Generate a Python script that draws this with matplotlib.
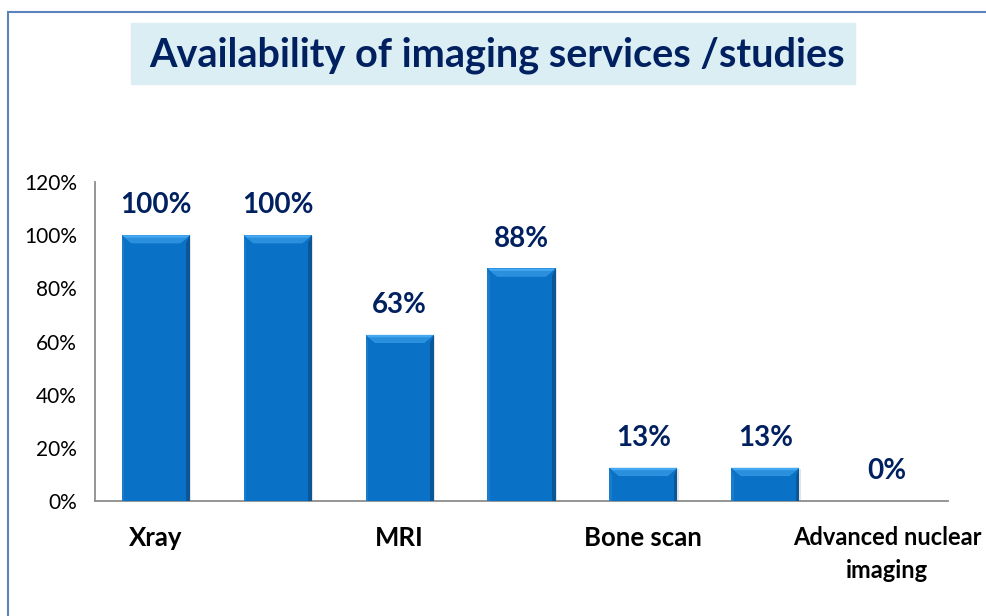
import matplotlib
matplotlib.use("Agg")
import matplotlib.pyplot as plt
from matplotlib.patches import Rectangle, Polygon

categories = ["Xray", "", "MRI", "", "Bone scan", "", "Advanced nuclear\nimaging"]
values = [1.00, 1.00, 0.625, 0.875, 0.125, 0.125, 0.0]
value_labels = ["100%", "100%", "63%", "88%", "13%", "13%", "0%"]
yticks = [0, 0.2, 0.4, 0.6, 0.8, 1.0, 1.2]
ytick_labels = ["0%", "20%", "40%", "60%", "80%", "100%", "120%"]
title = "Availability of imaging services /studies"

NAVY = "#002060"
BAR = "#0A72C6"
FONT = "Lato"

fig = plt.figure(figsize=(9.87, 6.16), dpi=100)
fig.patch.set_facecolor("white")

# outer border
fig.patches.append(Rectangle((8 / 987, -0.1), 1.2, 1 - 12 / 616 + 0.1,
                             transform=fig.transFigure, fill=False,
                             edgecolor="#5B84BC", linewidth=1.5))

ax = fig.add_axes([95 / 987, 1 - 501 / 616, (948 - 95) / 987, (501 - 182) / 616])
x = list(range(len(values)))
width = 0.56
bars = ax.bar(x, values, width=width, color=BAR, zorder=3)

# bevel effect derived from each bar's geometry
dx, dy = 0.08, 0.03
for b in bars:
    x0, y0, w, h = b.get_x(), b.get_y(), b.get_width(), b.get_height()
    if h <= 0:
        continue
    x1, y1 = x0 + w, y0 + h
    d = min(dy, h / 3)
    ddx = dx * d / dy
    # soft shadow
    ax.add_patch(Rectangle((x0 + 0.01, y0), w, h - 0.004, color="#c8c8c8",
                           alpha=0.5, zorder=2, lw=0))
    # top bevel
    ax.add_patch(Polygon([(x0, y1), (x1, y1), (x1 - ddx, y1 - d), (x0 + ddx, y1 - d)],
                         closed=True, color="#45A9F2", zorder=4, lw=0))
    ax.add_patch(Polygon([(x0 + ddx * 0.3, y1 - d * 0.3), (x1 - ddx * 0.3, y1 - d * 0.3),
                          (x1 - ddx, y1 - d), (x0 + ddx, y1 - d)],
                         closed=True, color="#2A90DE", zorder=4, lw=0))
    # right bevel
    ax.add_patch(Polygon([(x1, y1), (x1, y0), (x1 - 0.03, y0), (x1 - 0.03, y1 - d)],
                         closed=True, color="#0B5696", zorder=4, lw=0))
    # left bevel
    ax.add_patch(Polygon([(x0, y1), (x0, y0), (x0 + 0.02, y0), (x0 + 0.02, y1 - d)],
                         closed=True, color="#1A7DCB", zorder=4, lw=0))

for xi, v, lab in zip(x, values, value_labels):
    ax.text(xi, v + 0.063, lab, ha="center", va="bottom", fontsize=20,
            fontweight="bold", color=NAVY, family=FONT, zorder=5)

ax.set_xlim(-0.5, 6.5)
ax.set_ylim(0, 1.2)
ax.set_yticks(yticks)
ax.set_yticklabels(ytick_labels, fontsize=15, family=FONT)
ax.set_xticks(x)
ax.set_xticklabels(categories, fontsize=18.5, fontweight="bold", family=FONT,
                   linespacing=1.5)
ax.get_xticklabels()[-1].set_fontsize(17)
ax.tick_params(axis="both", length=0)
ax.tick_params(axis="y", pad=13)
ax.tick_params(axis="x", pad=18)
for s in ["top", "right"]:
    ax.spines[s].set_visible(False)
for s in ["left", "bottom"]:
    ax.spines[s].set_color("#8c8c8c")
    ax.spines[s].set_linewidth(1.3)
ax.set_facecolor("white")

# title box
fig.patches.append(Rectangle((131 / 987, 1 - 84 / 616), (855 - 131) / 987, (84 - 23) / 616,
                             transform=fig.transFigure, color="#DAEEF3", zorder=0))
fig.text(497 / 987, 1 - 55 / 616, title, ha="center", va="center", fontsize=28.5,
         fontweight="bold", color=NAVY, family=FONT)

fig.savefig("out.png", dpi=100)
